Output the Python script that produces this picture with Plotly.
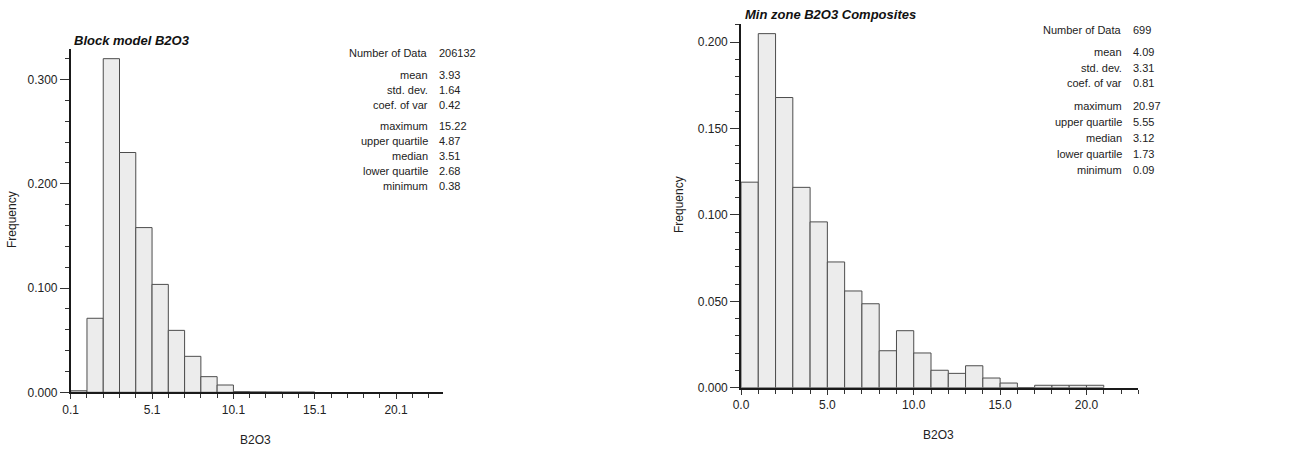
import plotly.graph_objects as go

# ---- Data: Block model B2O3 ----
left_edges = [0.1, 1.1, 2.1, 3.1, 4.1, 5.1, 6.1, 7.1, 8.1, 9.1, 10.1, 11.1, 12.1, 13.1, 14.1]
left_freq = [0.0015, 0.071, 0.320, 0.230, 0.158, 0.1035, 0.0594, 0.0345, 0.015, 0.007,
             0.0006, 0.0004, 0.0003, 0.0002, 0.0002]
left_stat_labels = ["Number of Data", "mean", "std. dev.", "coef. of var", "maximum",
                    "upper quartile", "median", "lower quartile", "minimum"]
left_stat_values = ["206132", "3.93", "1.64", "0.42", "15.22", "4.87", "3.51", "2.68", "0.38"]

# ---- Data: Min zone B2O3 Composites ----
right_edges = [0, 1, 2, 3, 4, 5, 6, 7, 8, 9, 10, 11, 12, 13, 14, 15, 16, 17, 18, 19, 20]
right_freq = [0.119, 0.205, 0.168, 0.116, 0.096, 0.0728, 0.056, 0.0486, 0.0214, 0.033,
              0.0201, 0.0101, 0.0083, 0.0127, 0.0056, 0.0027, 0.0, 0.0014, 0.0014, 0.0014, 0.0014]
right_stat_labels = ["Number of Data", "mean", "std. dev.", "coef. of var", "maximum",
                     "upper quartile", "median", "lower quartile", "minimum"]
right_stat_values = ["699", "4.09", "3.31", "0.81", "20.97", "5.55", "3.12", "1.73", "0.09"]

BIN_W = 1.0
FONT = "Liberation Sans, Arial, sans-serif"
TXT = "#222222"
W, H = 1295, 450

fig = go.Figure()
fig.add_trace(go.Bar(x=[e + BIN_W / 2 for e in left_edges], y=left_freq, width=BIN_W,
                     marker=dict(color="#ececec", line=dict(color="#4d4d4d", width=1)),
                     xaxis="x", yaxis="y", showlegend=False, hoverinfo="skip"))
fig.add_trace(go.Bar(x=[e + BIN_W / 2 for e in right_edges], y=right_freq, width=BIN_W,
                     marker=dict(color="#ececec", line=dict(color="#4d4d4d", width=1)),
                     xaxis="x2", yaxis="y2", showlegend=False, hoverinfo="skip"))

def px(x):
    return x / W

def py(y):
    return 1 - y / H

axis_common = dict(showgrid=False, zeroline=False, showline=True, linecolor="#1a1a1a",
                   linewidth=1.8, ticks="outside", tickcolor="#333333", automargin=False,
                   tickfont=dict(family=FONT, size=12, color=TXT))

fig.update_layout(
    template="none",
    width=W, height=H, margin=dict(l=0, r=0, t=0, b=0, pad=0),
    paper_bgcolor="white", plot_bgcolor="white", bargap=0,
    xaxis=dict(domain=[px(70.7), px(443.3)], range=[0.1, 23.0], anchor="y",
               tick0=0.1, dtick=5, ticklen=5,
               minor=dict(ticks="outside", dtick=1, tick0=0.1, ticklen=4, tickcolor="#333333"),
               **axis_common),
    yaxis=dict(domain=[py(392.3), py(49.3)], range=[0, 0.329], anchor="x",
               dtick=0.1, tickformat=".3f", ticklen=9,
               minor=dict(ticks="outside", dtick=0.02, ticklen=4, tickcolor="#333333"),
               **axis_common),
    xaxis2=dict(domain=[px(741), px(1138.3)], range=[0, 23.0], anchor="y2",
                dtick=5, tickformat=".1f", ticklen=5,
                minor=dict(ticks="outside", dtick=1, ticklen=4, tickcolor="#333333"),
                **axis_common),
    yaxis2=dict(domain=[py(387.7), py(24.3)], range=[0, 0.2104], anchor="x2",
                dtick=0.05, tickformat=".3f", ticklen=9,
                minor=dict(ticks="outside", dtick=0.01, ticklen=4, tickcolor="#333333"),
                **axis_common),
)

ann = []
# Titles
ann.append(dict(text="<b><i>Block model B2O3</i></b>", x=px(72), y=py(40), xref="paper", yref="paper",
                xanchor="left", yanchor="middle", showarrow=False,
                font=dict(family=FONT, size=13, color="#111111")))
ann.append(dict(text="<b><i>Min zone B2O3 Composites</i></b>", x=px(743), y=py(15), xref="paper", yref="paper",
                xanchor="left", yanchor="middle", showarrow=False,
                font=dict(family=FONT, size=13, color="#111111")))
# Axis titles
for (x, y, t, ang) in [(255, 440, "B2O3", 0), (938, 435, "B2O3", 0),
                       (12, 220, "Frequency", -90), (679, 205, "Frequency", -90)]:
    ann.append(dict(text=t, x=px(x), y=py(y), xref="paper", yref="paper", textangle=ang,
                    xanchor="center", yanchor="middle", showarrow=False,
                    font=dict(family=FONT, size=12, color=TXT)))

# Stats
left_rows_y = [53.3, 75, 90, 105, 126, 141, 156, 171, 186]
right_rows_y = [30, 51.7, 67.7, 83.3, 106, 122, 137.7, 153.7, 170]
for labels, values, rows, xl, xv in [(left_stat_labels, left_stat_values, left_rows_y, 430, 437),
                                     (right_stat_labels, right_stat_values, right_rows_y, 1124, 1131)]:
    for lab, val, yy in zip(labels, values, rows):
        ann.append(dict(text=lab, x=px(xl), y=py(yy), xref="paper", yref="paper",
                        xanchor="right", yanchor="middle", showarrow=False,
                        font=dict(family=FONT, size=11, color=TXT)))
        ann.append(dict(text=val, x=px(xv), y=py(yy), xref="paper", yref="paper",
                        xanchor="left", yanchor="middle", showarrow=False,
                        font=dict(family=FONT, size=11, color=TXT)))

fig.update_layout(annotations=ann)
fig.write_html("out.html", config={"displayModeBar": False, "staticPlot": True},
               post_script="document.body.style.margin='0';document.body.style.padding='0';"
                           "document.body.style.overflow='hidden';")
